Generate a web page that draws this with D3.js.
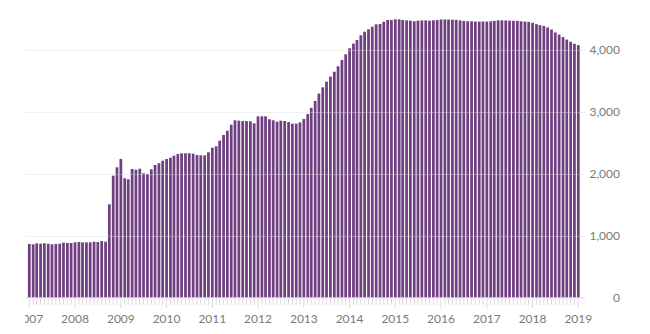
<!DOCTYPE html>
<html>
<head>
<meta charset="utf-8">
<script src="https://cdn.jsdelivr.net/npm/d3@7"></script>
<style>
  html, body { margin: 0; padding: 0; background: #ffffff; }
  svg { display: block; }
  text { font-family: Lato, "Open Sans", sans-serif; }
</style>
</head>
<body>
<svg id="chart" width="650" height="334"></svg>
<script>
// Monthly values (billions), Jan 2007 .. Jan 2019
const startYear = 2007;
const values2007 = [863, 858, 874, 868, 874, 868, 858, 863, 868, 884, 879, 879];
const values2008 = [890, 895, 890, 890, 890, 900, 895, 910, 900, 1503, 1965, 2100];
const values2009 = [2234, 1923, 1906, 2073, 2061, 2077, 2003, 1992, 2068, 2137, 2165, 2206];
const values2010 = [2234, 2255, 2287, 2315, 2326, 2326, 2326, 2320, 2298, 2293, 2293, 2342];
const values2011 = [2416, 2440, 2530, 2621, 2690, 2787, 2858, 2852, 2845, 2845, 2842, 2809];
const values2012 = [2922, 2922, 2922, 2874, 2858, 2836, 2852, 2847, 2830, 2804, 2804, 2825];
const values2013 = [2880, 2960, 3060, 3170, 3290, 3390, 3481, 3562, 3642, 3729, 3831, 3922];
const values2014 = [4019, 4094, 4153, 4229, 4287, 4326, 4368, 4406, 4411, 4448, 4476, 4476];
const values2015 = [4487, 4487, 4476, 4470, 4465, 4455, 4465, 4470, 4470, 4465, 4470, 4475];
const values2016 = [4485, 4485, 4483, 4480, 4478, 4470, 4460, 4455, 4455, 4450, 4450, 4452];
const values2017 = [4450, 4455, 4462, 4470, 4470, 4468, 4465, 4463, 4462, 4455, 4450, 4445];
const values2018 = [4430, 4408, 4392, 4380, 4355, 4322, 4275, 4240, 4200, 4160, 4125, 4092];
const values2019 = [4070];

const yTickValues = [0, 1000, 2000, 3000, 4000];
const yearTicks = [2007, 2008, 2009, 2010, 2011, 2012, 2013, 2014, 2015, 2016, 2017, 2018, 2019];

const allValues = [].concat(values2007, values2008, values2009, values2010, values2011,
  values2012, values2013, values2014, values2015, values2016, values2017, values2018, values2019);
const data = allValues.map((v, i) => ({
  date: new Date(startYear + Math.floor(i / 12), i % 12, 1),
  value: v
}));

const svg = d3.select("#chart");

const x = d3.scaleTime()
  .domain([new Date(2007, 0, 1), new Date(2019, 0, 1)])
  .range([29.3, 578.3]);
const y = d3.scaleLinear()
  .domain([0, 4000])
  .range([297.5, 49.5]);

const barW = 2.75;
const gridX0 = 26, gridX1 = 585;

svg.append("defs").append("clipPath").attr("id", "clip")
  .append("rect").attr("x", 25).attr("y", 0).attr("width", 625).attr("height", 334);

const root = svg.append("g").attr("clip-path", "url(#clip)");

// bars
root.append("g").selectAll("rect")
  .data(data)
  .join("rect")
  .attr("x", d => x(d.date) - barW / 2)
  .attr("width", barW)
  .attr("y", d => y(d.value))
  .attr("height", d => y(0) - y(d.value))
  .attr("fill", "#6f3f80");

// gridlines (over bars, faint)
root.append("g").selectAll("line")
  .data(yTickValues.filter(v => v > 0))
  .join("line")
  .attr("x1", gridX0).attr("x2", gridX1)
  .attr("y1", d => Math.round(y(d)) + 0.5).attr("y2", d => Math.round(y(d)) + 0.5)
  .attr("stroke", "#d8d8d8")
  .attr("stroke-opacity", 0.4)
  .attr("stroke-width", 1);

// baseline
root.append("line")
  .attr("x1", gridX0).attr("x2", gridX1)
  .attr("y1", 298).attr("y2", 298)
  .attr("stroke", "#d9d3dc").attr("stroke-width", 1);

// month ticks
const months = d3.timeMonth.range(new Date(2007, 0, 1), new Date(2019, 0, 2));
root.append("g").selectAll("line")
  .data(months)
  .join("line")
  .attr("x1", d => x(d)).attr("x2", d => x(d))
  .attr("y1", 298.5)
  .attr("y2", d => d.getMonth() === 0 ? 308 : 305)
  .attr("stroke", "#e2d6e6").attr("stroke-width", 1);

// x labels
root.append("g").selectAll("text")
  .data(yearTicks)
  .join("text")
  .attr("x", d => x(new Date(d, 0, 1)))
  .attr("y", 322.5)
  .attr("text-anchor", "middle")
  .attr("font-size", 12)
  .attr("fill", "#7a7a7a")
  .text(d => String(d));

// y labels
const fmt = d3.format(",");
svg.append("g").selectAll("text")
  .data(yTickValues)
  .join("text")
  .attr("x", 620)
  .attr("y", d => y(d))
  .attr("dy", "0.35em")
  .attr("text-anchor", "end")
  .attr("font-size", 12)
  .attr("fill", "#7a7a7a")
  .text(d => fmt(d));
</script>
</body>
</html>
